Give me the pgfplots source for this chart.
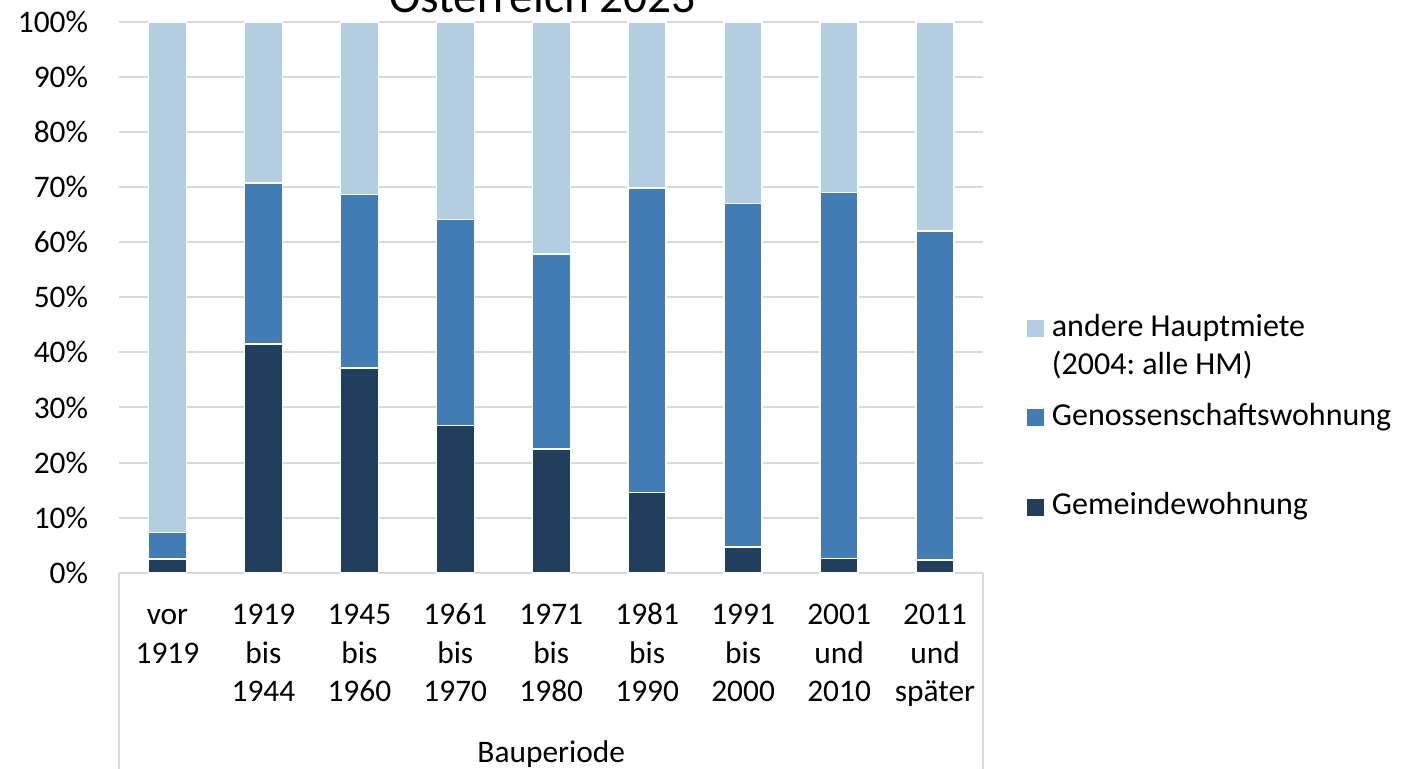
\documentclass[border=0pt]{standalone}
\usepackage{pgfplots}
\pgfplotsset{compat=1.18}
\usepackage{fontspec}
\setmainfont{Carlito}
\frenchspacing
\definecolor{cdark}{HTML}{213F5C}
\definecolor{cmid}{HTML}{417CB4}
\definecolor{clight}{HTML}{B3CDE3}
\definecolor{cgrid}{HTML}{D9D9D9}
\newcommand{\lbl}[1]{\begin{tabular}[t]{@{}c@{}}#1\end{tabular}}
\newcommand{\fnt}{\fontsize{15.7}{19.2}\selectfont}
\newcommand{\lfnt}{\fontsize{16}{19.2}\selectfont}
\pgfplotstableread{
x gem gen andere
0 2.5 4.85 92.65
1 41.5 29.2 29.3
2 37.2 31.5 31.3
3 26.7 37.4 35.9
4 22.5 35.4 42.1
5 14.6 55.2 30.2
6 4.7 62.3 33.0
7 2.6 66.4 31.0
8 2.3 59.7 38.0
}\datatable
\begin{document}
\begin{tikzpicture}
\path[use as bounding box] (-59.75pt,-98.1pt) rectangle (651.25pt,286.4pt);
\begin{axis}[
  scale only axis, width=431.75pt, height=275.5pt,
  at={(0pt,0pt)}, anchor=south west,
  ybar stacked, bar width=19pt,
  xmin=-0.5, xmax=8.5, ymin=0, ymax=100,
  enlargelimits=false, clip=false,
  axis line style={draw=none},
  major tick length=0pt,
  xtick={0,...,8},
  xticklabels={\lbl{vor\\1919}, \lbl{1919\\bis\\1944}, \lbl{1945\\bis\\1960}, \lbl{1961\\bis\\1970}, \lbl{1971\\bis\\1980}, \lbl{1981\\bis\\1990}, \lbl{1991\\bis\\2000}, \lbl{2001\\und\\2010}, \lbl{2011\\und\\später}},
  ytick={0,10,...,100},
  yticklabels={0\%,10\%,20\%,30\%,40\%,50\%,60\%,70\%,80\%,90\%,100\%},
  ymajorgrids, grid style={cgrid, line width=1pt},
  tick label style={font=\fnt},
  xticklabel style={anchor=base, yshift=-26pt, inner sep=0pt},
  yticklabel style={anchor=east, xshift=-15.5pt, inner sep=0pt},
  xlabel={Bauperiode},
  xlabel style={at={(axis description cs:0.5,0)}, anchor=base, yshift=-95pt, font=\fnt, inner sep=0pt},
  legend style={at={(rel axis cs:1,0)}, anchor=west, xshift=21.8pt, yshift=77.5pt, draw=none, fill=none, inner sep=0pt, row sep=28.4pt, column sep=4pt, font=\lfnt, nodes={inner sep=0pt, text height=12pt, text depth=4.3pt}},
  legend cell align=left,
  reverse legend,
]
\addplot[fill=cdark, draw=white, line width=0.75pt, legend image code/.code={\fill[cdark] (0pt,-3.85pt) rectangle (7.7pt,3.85pt);}] table[x=x, y=gem] {\datatable};
\addplot[fill=cmid, draw=white, line width=0.75pt, legend image code/.code={\fill[cmid] (0pt,-3.85pt) rectangle (7.7pt,3.85pt);}] table[x=x, y=gen] {\datatable};
\addplot[fill=clight, draw=white, line width=0.75pt, legend image code/.code={\fill[clight] (0pt,-3.85pt) rectangle (7.7pt,3.85pt);}] table[x=x, y=andere] {\datatable};
\legend{Gemeindewohnung, Genossenschaftswohnung, {\begin{tabular}[t]{@{}l@{}}andere Hauptmiete\\(2004: alle HM)\end{tabular}}}
\draw[cgrid, line width=1pt] (rel axis cs:0,0) -- (rel axis cs:1,0);
\draw[cgrid, line width=1pt] (rel axis cs:0,0) -- ++(0pt,-110pt);
\draw[cgrid, line width=1pt] (rel axis cs:1,0) -- ++(0pt,-110pt);
\end{axis}
\node[anchor=base, inner sep=0pt, font=\fontsize{23.7}{28}\selectfont] at (211.5pt,280.3pt) {Österreich 2023};
\end{tikzpicture}
\end{document}
